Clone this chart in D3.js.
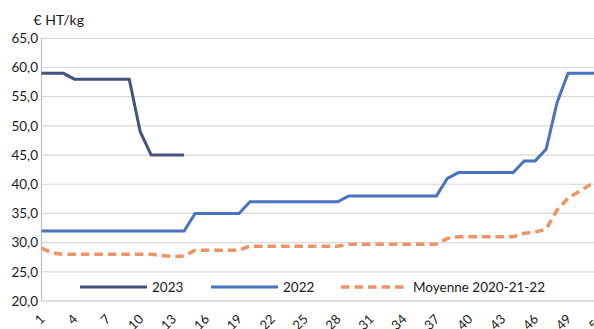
<!DOCTYPE html>
<html><head><meta charset="utf-8">
<script src="https://cdn.jsdelivr.net/npm/d3@7"></script>
<style>body{margin:0;background:#fff}svg{display:block;font-family:Lato,"Noto Sans",sans-serif}</style>
</head><body><svg id="c" width="594" height="329"></svg>
<script>
const weeks = d3.range(1, 53);
const tickWeeks = [1,4,7,10,13,16,19,22,25,28,31,34,37,40,43,46,49,52];
const yTicks = [20,25,30,35,40,45,50,55,60,65];
const s2023 = [59,59,59,58,58,58,58,58,58,49,45,45,45,45];
const s2022 = [32,32,32,32,32,32,32,32,32,32,32,32,32,32,35,35,35,35,35,37,37,37,37,37,37,37,37,37,38,38,38,38,38,38,38,38,38,41,42,42,42,42,42,42,44,44,46,54,59,59,59,59];
const sMoy = [29.05,28.2,28,28,28,28,28,28,28,28,28,27.8,27.6,27.7,28.7,28.7,28.7,28.7,28.7,29.4,29.4,29.4,29.4,29.4,29.4,29.4,29.4,29.4,29.7,29.7,29.7,29.7,29.7,29.7,29.7,29.7,29.75,30.7,31,31,31,31,31,31,31.6,31.8,32.3,35.6,37.6,38.75,39.9,40.3];
const seriesNames = ["2023","2022","Moyenne 2020-21-22"];
const unitLabel = "€ HT/kg";

const svg = d3.select("#c");
const x = d3.scalePoint().domain(weeks).range([41.5, 41.5 + 51*10.97]);
const y = d3.scaleLinear().domain([20,65]).range([301, 38.3]);
const fmt = d => d.toFixed(1).replace(".", ",");

// gridlines
svg.append("g").selectAll("line").data(yTicks.filter(d=>d>20)).join("line")
  .attr("x1", 41).attr("x2", 594).attr("y1", d=>y(d)).attr("y2", d=>y(d))
  .attr("stroke", "#d9d9d9").attr("stroke-width", 1.2);

// axes lines
svg.append("line").attr("x1",41.5).attr("x2",41.5).attr("y1",y(65)).attr("y2",y(20)).attr("stroke","#bfbfbf").attr("stroke-width",1.2);
svg.append("line").attr("x1",41).attr("x2",594).attr("y1",y(20)).attr("y2",y(20)).attr("stroke","#bfbfbf").attr("stroke-width",1.2);

// y labels
svg.append("g").selectAll("text").data(yTicks).join("text")
  .attr("x", 38).attr("y", d=>y(d)).attr("dy","0.35em").attr("text-anchor","end")
  .attr("font-size", 13.5).attr("fill","#1a1a1a").text(fmt);

// x labels
svg.append("g").selectAll("text").data(tickWeeks).join("text")
  .attr("transform", d=>`translate(${x(d)+4},320) rotate(-45)`)
  .attr("text-anchor","end").attr("font-size", 13).attr("fill","#1a1a1a").text(d=>d);

// title
svg.append("text").attr("x",33.5).attr("y",25).attr("font-size",14).attr("fill","#1a1a1a").text(unitLabel);

const line = d3.line().x((d,i)=>x(weeks[i])).y(d=>y(d));
svg.append("path").attr("d", line(sMoy)).attr("fill","none").attr("stroke","#ec9466").attr("stroke-width",3.5).attr("stroke-dasharray","8.5,5");
svg.append("path").attr("d", line(s2022)).attr("fill","none").attr("stroke","#4a72c0").attr("stroke-width",3);
svg.append("path").attr("d", line(s2023)).attr("fill","none").attr("stroke","#44527e").attr("stroke-width",3);

// legend
const legY = 287;
const leg = [
  {name: seriesNames[0], x0: 80, color: "#44527e", dash: null, w:3},
  {name: seriesNames[1], x0: 211, color: "#4a72c0", dash: null, w:3},
  {name: seriesNames[2], x0: 341, color: "#ec9466", dash: "8.5,5", w:3.5}
];
leg.forEach(l => {
  svg.append("line").attr("x1", l.x0).attr("x2", l.x0+67).attr("y1", legY).attr("y2", legY)
    .attr("stroke", l.color).attr("stroke-width", l.w).attr("stroke-dasharray", l.dash);
  svg.append("text").attr("x", l.x0+72).attr("y", legY).attr("dy","0.35em").attr("font-size",13.5).attr("fill","#1a1a1a").text(l.name);
});
</script></body></html>
